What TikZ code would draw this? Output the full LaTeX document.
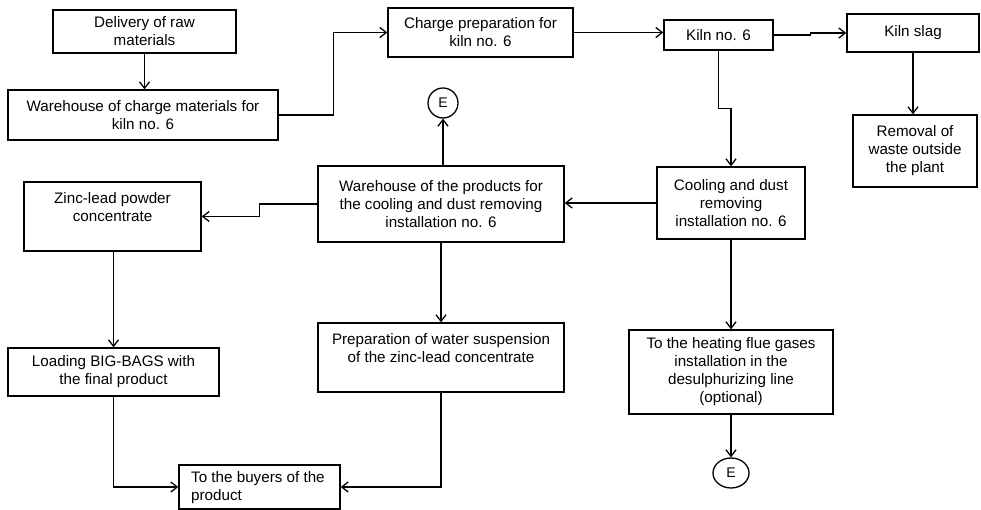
\documentclass[tikz,border=0pt]{standalone}
\usepackage{fontspec}
\setmainfont{Liberation Sans}
\usetikzlibrary{arrows.meta,shapes.geometric}
\begin{document}
\begin{tikzpicture}[x=1pt,y=-1pt,
  box/.style={draw, line width=1.3pt, rectangle, inner sep=0pt, align=center,
    font=\fontsize{15.2}{18}\selectfont},
  txt/.style={inner sep=0pt, align=center, font=\fontsize{15.2}{18}\selectfont},
  ebox/.style={draw, line width=1.3pt, ellipse, inner sep=0pt, font=\fontsize{14}{16}\selectfont},
  arr/.style={line width=1.3pt, -{Straight Barb[length=6.5pt,width=10pt]}}]
\useasboundingbox (0,0) rectangle (981,510);

\node[box, minimum width=183, minimum height=43] (deliv) at (144.5,31.5) {Delivery of raw\\materials};
\node[box, minimum width=270, minimum height=50] (whc) at (143,115) {Warehouse of charge materials for\\kiln no. 6};
\node[box, minimum width=185, minimum height=49] (prep) at (480.5,32.5) {Charge preparation for\\kiln no. 6};
\node[box, minimum width=109, minimum height=30] (kiln) at (718.5,35) {Kiln no. 6};
\node[box, minimum width=132, minimum height=38] (slag) at (913,33) {Kiln slag};
\node[box, minimum width=124, minimum height=72] (removal) at (915,151) {Removal of\\waste outside\\the plant};
\node[box, minimum width=148, minimum height=72] (cool) at (731,203) {Cooling and dust\\removing\\installation no. 6};
\node[box, minimum width=246, minimum height=76] (whp) at (441,204) {Warehouse of the products for\\the cooling and dust removing\\installation no. 6};
\node[box, minimum width=177, minimum height=69] (zinc) at (112.5,216.5) {};
\node[txt] (zinct) at (112.5,207) {Zinc-lead powder\\concentrate};
\node[box, minimum width=211, minimum height=48] (load) at (113.5,372) {Loading BIG-BAGS with\\the final product};
\node[box, minimum width=246, minimum height=69] (wsus) at (441,357.5) {};
\node[txt] (wsust) at (441,348) {Preparation of water suspension\\of the zinc-lead concentrate};
\node[box, minimum width=161, minimum height=44] (buy) at (259.5,487) {};
\node[txt, align=left, anchor=west] (buyt) at (191,487.5) {To the buyers of the\\product};
\node[box, minimum width=204, minimum height=84] (heat) at (731,372) {To the heating flue gases\\installation in the\\desulphurizing line\\(optional)};
\node[ebox, minimum width=30, minimum height=30] (e1) at (443,103) {E};
\node[ebox, minimum width=36, minimum height=30] (e2) at (731,473) {E};

\draw[arr] (deliv.south) -- (deliv.south |- whc.north);
\draw[arr] (whc.east) -- ++(55,0) |- (prep.west);
\draw[arr] (prep.east) -- (prep.east -| kiln.west);
\draw[arr] (kiln.east) -- ++(37,0) |- (slag.west);
\draw[arr] (kiln.south) -- ++(0,58) -| (cool.north);
\draw[arr] (slag.south) -- (slag.south |- removal.north);
\draw[arr] (cool.west) -- (cool.west -| whp.east);
\draw[arr] (whp.north -| e1) -- (e1.south);
\draw[arr] (whp.west) -- ++(-58,0) |- (zinc.east);
\draw[arr] (whp.south) -- (wsus.north);
\draw[arr] (zinc.south -| load.north) -- (load.north);
\draw[arr] (load.south) |- (buy.west);
\draw[arr] (wsus.south) |- (buy.east);
\draw[arr] (cool.south) -- (heat.north);
\draw[arr] (heat.south) -- (e2.north);
\end{tikzpicture}
\end{document}
